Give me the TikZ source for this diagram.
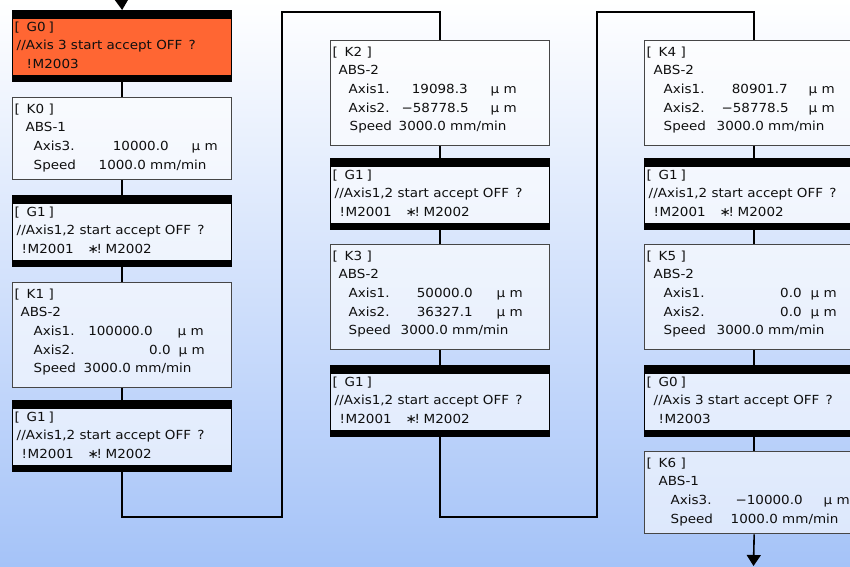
\documentclass[tikz,border=0pt]{standalone}
\usepackage{fontspec}
\setmainfont{DejaVu Sans}[FakeStretch=1.08]
\usetikzlibrary{arrows.meta,positioning}
\definecolor{bgblue}{RGB}{165,195,248}
\definecolor{goorange}{RGB}{255,102,51}
\definecolor{boxline}{RGB}{70,70,70}
\definecolor{txtgray}{RGB}{15,15,15}
% text at a fixed offset from the left edge of a box
\newcommand{\putl}[2]{\rlap{\hspace*{#1pt}#2}}
\newcommand{\putr}[2]{\rlap{\hspace*{#1pt}\llap{#2}}}
\newcommand{\boxtag}[1]{\putl{2}{[}\putl{14}{#1}\putl{36}{]}}
\newcommand{\axisrow}[5]{\putl{#1}{#2}\putr{#3}{#4}\putl{#5}{μ m}}
\newcommand{\speedrow}[3]{\putl{#1}{Speed}\putl{#2}{#3 mm/min}}
\newcommand{\gonetext}{\rule{0pt}{21pt}\boxtag{G1}\\
  \putl{4}{//Axis1,2 start accept OFF\enspace?}\\
  \putl{9}{!}\putl{15}{M2001}\putl{75}{∗}\putl{84}{!}\putl{93}{M2002}}
\newcommand{\gzerotext}[1]{\rule{0pt}{21pt}\boxtag{G0}\\
  \putl{#1}{//Axis 3 start accept OFF\enspace?}\\
  \putl{14}{!}\putl{20}{M2003}}

\begin{document}
\begin{tikzpicture}[x=1pt,y=-1pt,>=Latex,
  kbox/.style={draw=boxline,line width=1.3pt,fill=white,fill opacity=.6,
    minimum width=219pt,minimum height=105pt,anchor=north west,inner sep=0pt},
  gatebox/.style={kbox,draw=black,minimum height=71pt,
    path picture={
      \fill[black,fill opacity=1] (path picture bounding box.north west) rectangle ([yshift=-8pt]path picture bounding box.north east);
      \fill[black,fill opacity=1] (path picture bounding box.south west) rectangle ([yshift=7pt]path picture bounding box.south east);}},
  gohot/.style={fill=goorange,fill opacity=1},
  btxt/.style={anchor=north west,inner sep=0pt,align=left,text=txtgray,
    font=\fontsize{12.5}{18.6}\selectfont},
  link/.style={line width=1.6pt,black},
  tip/.style={-{Triangle[width=14pt,length=11pt]}}]
\useasboundingbox (0,0) rectangle (850,566);
\shade[top color=white,bottom color=bgblue] (0,0) rectangle (850,566);

% column 1
\node[gatebox,gohot] (g0a) at (12,10) {};
\node[kbox,minimum height=82pt] (k0) at (12,97) {};
\node[gatebox] (g1a) at (12,195) {};
\node[kbox] (k1) at (12,282) {};
\node[gatebox] (g1b) at (12,400) {};
% column 2
\node[kbox] (k2) at (330,40) {};
\node[gatebox] (g1c) at (330,158) {};
\node[kbox] (k3) at (330,244) {};
\node[gatebox] (g1d) at (330,365) {};
% column 3
\node[kbox] (k4) at (644,40) {};
\node[gatebox] (g1e) at (644,158) {};
\node[kbox] (k5) at (644,244) {};
\node[gatebox] (g0b) at (644,365) {};
\node[kbox,minimum height=82pt] (k6) at (644,451) {};

% texts
\node[btxt] (g0at) at (g0a.north west) {\gzerotext{4}};
\node[btxt] (k0t) at (k0.north west) {\rule{0pt}{16pt}\boxtag{K0}\\ \putl{13}{ABS-1}\\
  \axisrow{21}{Axis3.}{156}{10000.0}{179}\\ \speedrow{21}{86}{1000.0}};
\node[btxt] (g1at) at (g1a.north west) {\gonetext};
\node[btxt] (k1t) at (k1.north west) {\rule{0pt}{16pt}\boxtag{K1}\\ \putl{8}{ABS-2}\\
  \axisrow{21}{Axis1.}{140}{100000.0}{165}\\ \axisrow{21}{Axis2.}{158}{0.0}{166}\\
  \speedrow{21}{71}{3000.0}};
\node[btxt] (g1bt) at (g1b.north west) {\gonetext};
\node[btxt] (k2t) at (k2.north west) {\rule{0pt}{16pt}\boxtag{K2}\\ \putl{8}{ABS-2}\\
  \axisrow{18}{Axis1.}{137}{19098.3}{160}\\ \axisrow{18}{Axis2.}{138}{−58778.5}{160}\\
  \speedrow{19}{68}{3000.0}};
\node[btxt] (g1ct) at (g1c.north west) {\gonetext};
\node[btxt] (k3t) at (k3.north west) {\rule{0pt}{16pt}\boxtag{K3}\\ \putl{8}{ABS-2}\\
  \axisrow{18}{Axis1.}{142}{50000.0}{166}\\ \axisrow{18}{Axis2.}{142}{36327.1}{166}\\
  \speedrow{18}{70}{3000.0}};
\node[btxt] (g1dt) at (g1d.north west) {\gonetext};
\node[btxt] (k4t) at (k4.north west) {\rule{0pt}{16pt}\boxtag{K4}\\ \putl{9}{ABS-2}\\
  \axisrow{19}{Axis1.}{143}{80901.7}{164}\\ \axisrow{19}{Axis2.}{144}{−58778.5}{164}\\
  \speedrow{19}{72}{3000.0}};
\node[btxt] (g1et) at (g1e.north west) {\gonetext};
\node[btxt] (k5t) at (k5.north west) {\rule{0pt}{16pt}\boxtag{K5}\\ \putl{9}{ABS-2}\\
  \axisrow{19}{Axis1.}{157}{0.0}{166}\\ \axisrow{19}{Axis2.}{157}{0.0}{166}\\
  \speedrow{19}{72}{3000.0}};
\node[btxt] (g0bt) at (g0b.north west) {\gzerotext{9}};
\node[btxt] (k6t) at (k6.north west) {\rule{0pt}{16pt}\boxtag{K6}\\ \putl{14}{ABS-1}\\
  \axisrow{26}{Axis3.}{158}{−10000.0}{179}\\ \speedrow{26}{86}{1000.0}};

% connectors
\coordinate (in) at (121.5,-2);
\coordinate (out) at (753.5,566);
\coordinate (lp1b) at (282,517); \coordinate (lp1t) at (282,12);
\coordinate (lp2b) at (597,517); \coordinate (lp2t) at (597,12);
\draw[link,tip] (in) -- (g0a.north);
\draw[link] (g0a.south) -- (k0.north); \draw[link] (k0.south) -- (g1a.north);
\draw[link] (g1a.south) -- (k1.north); \draw[link] (k1.south) -- (g1b.north);
\draw[link] (g1b.south) |- (lp1b) -- (lp1t) -| (k2.north);
\draw[link] (k2.south) -- (g1c.north); \draw[link] (g1c.south) -- (k3.north);
\draw[link] (k3.south) -- (g1d.north);
\draw[link] (g1d.south) |- (lp2b) -- (lp2t) -| (k4.north);
\draw[link] (k4.south) -- (g1e.north); \draw[link] (g1e.south) -- (k5.north);
\draw[link] (k5.south) -- (g0b.north); \draw[link] (g0b.south) -- (k6.north);
\draw[link,tip] (k6.south) -- (out);
\end{tikzpicture}
\end{document}
